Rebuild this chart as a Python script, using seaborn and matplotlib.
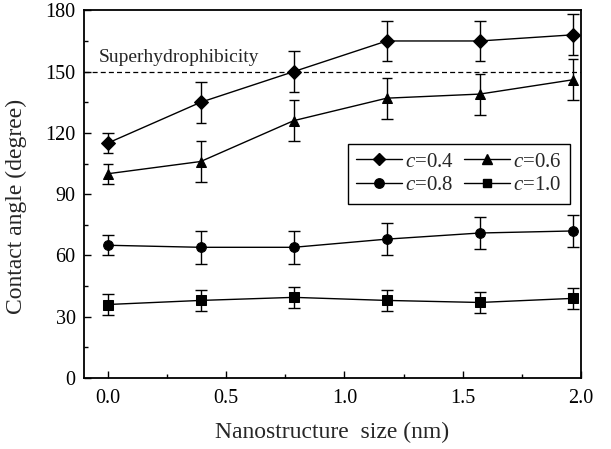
import numpy as np
import pandas as pd
import matplotlib
matplotlib.use("Agg")
import matplotlib.pyplot as plt
import seaborn as sns
from matplotlib.ticker import MultipleLocator, FormatStrFormatter
from matplotlib.lines import Line2D

sns.set_theme(style="ticks")
plt.rcParams['font.family'] = ['Liberation Serif', 'DejaVu Serif']
plt.rcParams['mathtext.fontset'] = 'custom'
plt.rcParams['mathtext.it'] = 'Liberation Serif:italic'
plt.rcParams['mathtext.rm'] = 'Liberation Serif'

sizes = [0.0, 0.393, 0.786, 1.179, 1.572, 1.965]
labels = ["$c$=0.4", "$c$=0.6", "$c$=0.8", "$c$=1.0"]
angle_c04 = [115, 135, 150, 165, 165, 168]
angle_c06 = [100, 106, 126, 137, 139, 146]
angle_c08 = [65, 64, 64, 68, 71, 72]
angle_c10 = [36, 38, 39.5, 38, 37, 39]
err_c04 = [5, 10, 10, 10, 10, 10]
err_c06 = [5, 10, 10, 10, 10, 10]
err_c08 = [5, 8, 8, 8, 8, 8]
err_c10 = [5, 5, 5, 5, 5, 5]
threshold = 150
threshold_label = "Superhydrophibicity"

series = [angle_c04, angle_c06, angle_c08, angle_c10]
errs = [err_c04, err_c06, err_c08, err_c10]
rows = []
for lab, vals, er in zip(labels, series, errs):
    for x, v, e in zip(sizes, vals, er):
        rows.append({"size": x, "angle": v, "err": e, "c": lab})
df = pd.DataFrame(rows)

fig = plt.figure(figsize=(6.11, 4.49), dpi=100)
ax = fig.add_axes([0.1375, 0.158, 0.8135, 0.819])

markers = {labels[0]: "D", labels[1]: "^", labels[2]: "o", labels[3]: "s"}
msizes = {labels[0]: 7.5, labels[1]: 8.5, labels[2]: 8, labels[3]: 6.5}

for lab in labels:
    d = df[df["c"] == lab]
    ax.errorbar(d["size"], d["angle"], yerr=d["err"], fmt="none",
                ecolor="black", elinewidth=1.0, capsize=4, capthick=1.0, zorder=2)

sns.lineplot(data=df, x="size", y="angle", hue="c", style="c",
             palette={l: "black" for l in labels}, markers=markers, dashes=False,
             linewidth=1.0, markersize=7, markeredgecolor="black", ax=ax,
             legend=False, zorder=3)
for line, lab in zip(ax.get_lines(), labels):
    line.set_markersize(msizes[lab])

ax.axhline(threshold, color="black", linestyle=(0, (4, 2.5)), linewidth=0.9, zorder=1)
ax.text(-0.037, 154.5, threshold_label, fontsize=14, ha="left", va="baseline")

order = [labels[0], labels[2], labels[1], labels[3]]
handles = [Line2D([], [], color="black", marker=markers[l], markersize=msizes[l] * 0.85, lw=1.0)
           for l in order]
leg = ax.legend(handles, order, ncol=2, loc="upper left",
                bbox_to_anchor=(0.531, 0.637), fontsize=15, frameon=True,
                fancybox=False, edgecolor="black", framealpha=1,
                handlelength=2.2, handletextpad=0.15, columnspacing=0.5,
                borderpad=0.4, labelspacing=0.2, borderaxespad=0)
leg.get_frame().set_linewidth(1.0)

ax.set_xlim(-0.1, 2.0)
ax.set_ylim(0, 180)
ax.xaxis.set_major_locator(MultipleLocator(0.5))
ax.xaxis.set_minor_locator(MultipleLocator(0.25))
ax.yaxis.set_major_locator(MultipleLocator(30))
ax.yaxis.set_minor_locator(MultipleLocator(15))
ax.xaxis.set_major_formatter(FormatStrFormatter("%.1f"))
ax.tick_params(which="both", direction="in", top=False, right=False,
               labelsize=14.5, colors="black", width=1.0)
ax.tick_params(axis="x", which="major", pad=8)
ax.tick_params(axis="y", which="major", pad=6)
ax.tick_params(which="major", length=5)
ax.tick_params(which="minor", length=3)
for s in ax.spines.values():
    s.set_linewidth(1.3)
    s.set_color("black")
    s.set_visible(True)

ax.set_xlabel("Nanostructure  size (nm)", fontsize=17)
ax.set_ylabel("Contact angle (degree)", fontsize=17)
ax.xaxis.set_label_coords(0.5, -0.118)
ax.yaxis.set_label_coords(-0.115, 0.468)

fig.savefig("out.png", dpi=100)
